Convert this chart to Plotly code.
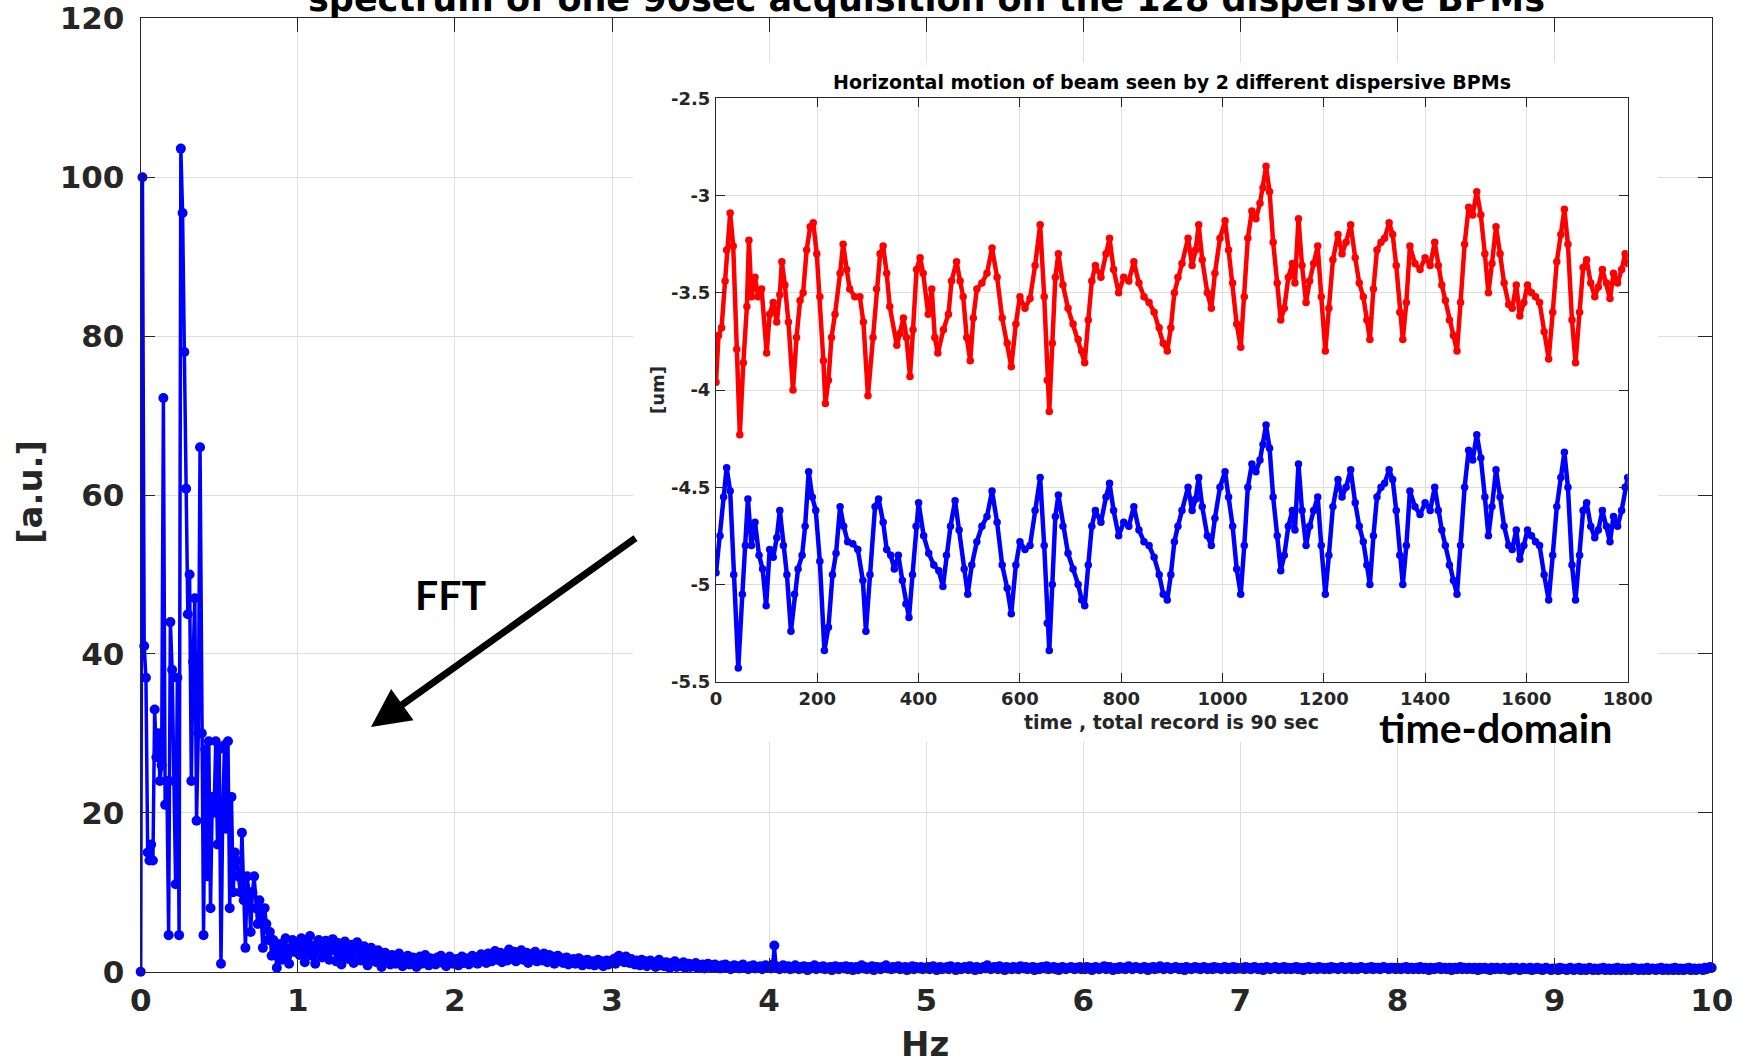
import numpy as np
import plotly.graph_objects as go

# ---------------- spectrum (FFT of a 90 s record, 0..10 Hz) ----------------
spec_0_1hz = [0, 100, 41, 37, 15, 14, 16, 14, 33, 27, 30, 24, 26, 72.2, 21, 24, 4.6, 44, 38, 24,
              11, 37, 4.6, 103.6, 95.5, 78, 60.8, 45, 50, 24, 39, 47, 19, 30, 66, 30, 4.6, 28, 12, 29,
              8, 22, 20, 29, 16, 28, 1, 20, 28.5, 18, 29, 8, 22, 10, 15, 14, 12, 10, 17.5, 9,
              3, 12, 10, 5, 10, 12, 8, 6, 9, 7, 3, 8, 6, 4, 5, 2, 4, 3, 0.5, 2.5,
              3.5, 1.5, 3, 4.2, 2, 1, 3, 4, 2.5, 3.5]
spec_1_2hz = [3.0, 2.1, 4.2, 3.0, 1.2, 3.8, 2.5, 4.5, 2.0, 3.3, 1.0, 2.8, 4.0, 3.5, 1.8, 2.6, 3.9, 2.2, 1.5, 3.1,
              4.1, 2.7, 1.3, 3.6, 2.4, 0.9, 3.0, 3.8, 2.0, 1.6, 2.9, 3.4, 1.1, 2.5, 3.7, 2.3, 1.4, 2.8, 3.2, 1.9,
              0.8, 2.6, 3.0, 1.7, 2.2, 1.2, 2.7, 1.5, 0.6, 2.0, 2.4, 1.3, 1.8, 0.9, 2.1, 1.6, 1.0, 1.9, 2.3, 1.4,
              0.7, 1.7, 1.2, 2.0, 0.9, 1.5, 1.8, 1.1, 0.6, 1.4, 1.9, 1.0, 1.6, 2.1, 1.3, 0.8, 1.7, 1.2, 1.5, 0.9,
              1.8, 1.4, 2.0, 1.1, 1.6, 0.7, 1.3, 1.9, 1.5, 1.0]
spec_2_3hz = [1.2, 1.6, 0.8, 1.4, 1.9, 1.1, 1.7, 1.3, 0.9, 1.5, 2.0, 1.2, 1.8, 1.0, 1.6, 2.2, 1.4, 1.9, 1.1, 2.3,
              1.7, 1.3, 2.0, 2.6, 1.5, 1.8, 2.4, 1.2, 1.9, 2.1, 1.4, 2.8, 2.0, 1.6, 2.5, 1.3, 2.2, 1.8, 2.7, 1.5,
              2.0, 2.4, 1.1, 1.9, 2.2, 1.6, 2.5, 1.3, 1.8, 2.0, 1.4, 2.3, 1.7, 1.2, 2.1, 1.5, 1.9, 1.0, 1.6, 2.0,
              1.3, 1.7, 1.1, 1.5, 1.8, 0.9, 1.4, 1.2, 1.6, 1.0, 1.3, 1.7, 1.1, 0.8, 1.4, 1.2, 1.5, 0.9, 1.1, 1.3,
              0.8, 1.2, 1.5, 1.0, 1.3, 0.7, 1.1, 1.4, 0.9, 1.2]
spec_3_4hz = [1.3, 1.6, 1.0, 1.8, 2.0, 1.4, 1.7, 1.2, 1.9, 1.5, 1.1, 1.6, 1.3, 0.9, 1.4, 1.2, 0.8, 1.5, 1.1, 1.3,
              0.7, 1.0, 1.4, 0.9, 1.2, 0.6, 1.1, 1.5, 0.8, 1.0, 0.7, 1.2, 0.9, 0.5, 1.1, 0.8, 1.3, 0.6, 0.9, 1.0,
              0.7, 1.2, 0.5, 0.8, 1.0, 0.6, 0.9, 0.7, 1.1, 0.5, 0.8, 0.6, 0.9, 0.4, 0.7, 1.0, 0.6, 0.8, 0.5, 0.9,
              0.6, 0.7, 0.4, 0.8, 0.6, 0.9, 0.5, 0.7, 0.3, 0.6, 0.8, 0.5, 0.7, 0.4, 0.6, 0.9, 0.5, 0.6, 0.3, 0.7,
              0.5, 0.8, 0.4, 0.6, 0.5, 0.7, 0.3, 0.6, 0.8, 0.5]
spec_4_5hz = [0.6, 0.4, 0.9, 3.3, 0.7, 0.5, 0.3, 0.6, 0.8, 0.4, 0.5, 0.7, 0.3, 0.6, 0.4, 0.8, 0.5, 0.3, 0.6, 0.4,
              0.7, 0.5, 0.2, 0.6, 0.4, 0.5, 0.8, 0.3, 0.5, 0.6, 0.4, 0.7, 0.3, 0.5, 0.4, 0.6, 0.2, 0.5, 0.7, 0.4,
              0.3, 0.6, 0.5, 0.4, 0.7, 0.3, 0.5, 0.6, 0.2, 0.4, 0.6, 0.3, 0.5, 0.8, 0.4, 0.6, 0.3, 0.5, 0.4, 0.7,
              0.2, 0.5, 0.6, 0.4, 0.3, 0.6, 0.5, 0.8, 0.4, 0.5, 0.3, 0.6, 0.4, 0.5, 0.7, 0.3, 0.5, 0.4, 0.6, 0.2,
              0.5, 0.4, 0.7, 0.3, 0.6, 0.5, 0.4, 0.6, 0.3, 0.5]
spec_5_6hz = [0.4, 0.6, 0.3, 0.5, 0.7, 0.4, 0.2, 0.5, 0.6, 0.3, 0.5, 0.4, 0.6, 0.3, 0.7, 0.5, 0.4, 0.2, 0.6, 0.5,
              0.3, 0.4, 0.6, 0.5, 0.3, 0.7, 0.4, 0.5, 0.2, 0.6, 0.4, 0.3, 0.5, 0.6, 0.4, 0.8, 0.5, 0.3, 0.4, 0.6,
              0.5, 0.3, 0.7, 0.4, 0.5, 0.2, 0.6, 0.4, 0.5, 0.3, 0.6, 0.4, 0.5, 0.3, 0.7, 0.5, 0.4, 0.6, 0.3, 0.5,
              0.4, 0.6, 0.2, 0.5, 0.4, 0.3, 0.6, 0.5, 0.4, 0.7, 0.3, 0.5, 0.4, 0.6, 0.3, 0.5, 0.2, 0.4, 0.6, 0.5,
              0.3, 0.4, 0.5, 0.6, 0.4, 0.3, 0.5, 0.4, 0.6, 0.3]
spec_6_7hz = [0.5, 0.3, 0.6, 0.4, 0.5, 0.2, 0.4, 0.6, 0.5, 0.3, 0.4, 0.5, 0.7, 0.3, 0.4, 0.6, 0.5, 0.2, 0.4, 0.5,
              0.3, 0.6, 0.4, 0.5, 0.3, 0.4, 0.7, 0.5, 0.3, 0.4, 0.6, 0.5, 0.4, 0.3, 0.5, 0.6, 0.4, 0.2, 0.5, 0.4,
              0.6, 0.3, 0.5, 0.4, 0.7, 0.5, 0.3, 0.4, 0.6, 0.5, 0.3, 0.4, 0.5, 0.6, 0.4, 0.3, 0.5, 0.4, 0.2, 0.6,
              0.5, 0.4, 0.3, 0.5, 0.6, 0.4, 0.5, 0.3, 0.4, 0.6, 0.5, 0.3, 0.4, 0.5, 0.3, 0.6, 0.4, 0.5, 0.4, 0.3,
              0.5, 0.6, 0.4, 0.3, 0.5, 0.4, 0.6, 0.3, 0.5, 0.4]
spec_7_8hz = [0.4, 0.5, 0.3, 0.6, 0.4, 0.5, 0.3, 0.4, 0.6, 0.5, 0.3, 0.4, 0.5, 0.2, 0.4, 0.6, 0.5, 0.3, 0.4, 0.5,
              0.6, 0.4, 0.3, 0.5, 0.4, 0.6, 0.3, 0.5, 0.4, 0.3, 0.5, 0.4, 0.6, 0.3, 0.5, 0.4, 0.2, 0.5, 0.4, 0.6,
              0.3, 0.5, 0.4, 0.5, 0.3, 0.6, 0.4, 0.5, 0.3, 0.4, 0.5, 0.3, 0.6, 0.4, 0.5, 0.4, 0.3, 0.5, 0.6, 0.4,
              0.3, 0.5, 0.4, 0.6, 0.3, 0.4, 0.5, 0.3, 0.4, 0.6, 0.5, 0.4, 0.3, 0.5, 0.4, 0.6, 0.3, 0.5, 0.4, 0.5,
              0.3, 0.4, 0.6, 0.5, 0.4, 0.3, 0.5, 0.4, 0.5, 0.3]
spec_8_9hz = [0.5, 0.4, 0.3, 0.5, 0.4, 0.6, 0.3, 0.4, 0.5, 0.3, 0.4, 0.5, 0.3, 0.6, 0.4, 0.3, 0.5, 0.4, 0.2, 0.5,
              0.4, 0.3, 0.5, 0.4, 0.6, 0.3, 0.4, 0.5, 0.3, 0.4, 0.5, 0.2, 0.4, 0.5, 0.3, 0.4, 0.6, 0.3, 0.5, 0.4,
              0.3, 0.5, 0.4, 0.3, 0.5, 0.4, 0.2, 0.5, 0.3, 0.4, 0.5, 0.3, 0.4, 0.2, 0.5, 0.4, 0.3, 0.5, 0.4, 0.3,
              0.4, 0.5, 0.3, 0.4, 0.2, 0.5, 0.3, 0.4, 0.5, 0.3, 0.2, 0.4, 0.5, 0.3, 0.4, 0.3, 0.5, 0.2, 0.4, 0.3,
              0.5, 0.3, 0.4, 0.2, 0.3, 0.5, 0.4, 0.3, 0.2, 0.4]
spec_9_10hz = [0.3, 0.4, 0.2, 0.5, 0.3, 0.4, 0.3, 0.2, 0.4, 0.5, 0.3, 0.2, 0.4, 0.3, 0.5, 0.2, 0.3, 0.4, 0.2, 0.3,
               0.5, 0.3, 0.2, 0.4, 0.3, 0.2, 0.4, 0.3, 0.5, 0.2, 0.3, 0.4, 0.2, 0.3, 0.4, 0.2, 0.5, 0.3, 0.2, 0.4,
               0.3, 0.2, 0.4, 0.3, 0.2, 0.5, 0.3, 0.4, 0.2, 0.3, 0.4, 0.2, 0.3, 0.5, 0.2, 0.3, 0.4, 0.3, 0.2, 0.4,
               0.3, 0.5, 0.2, 0.3, 0.4, 0.2, 0.3, 0.4, 0.2, 0.5, 0.3, 0.2, 0.4, 0.3, 0.2, 0.4, 0.3, 0.5, 0.2, 0.3,
               0.4, 0.2, 0.3, 0.4, 0.3, 0.2, 0.5, 0.3, 0.4, 0.6, 0.5]

# ---------------- time-domain horizontal position of two BPMs ----------------
blue_t = [0, 8, 15, 21, 28, 35, 44, 52, 58, 63, 70, 77, 85, 92, 99, 106, 113, 120, 126, 133,
          140, 148, 155, 162, 170, 176, 183, 190, 197, 205, 214, 222, 230, 237, 245, 252, 260, 270, 280, 290,
          296, 304, 314, 321, 330, 337, 345, 352, 360, 368, 375, 381, 388, 395, 400, 410, 420, 430, 440, 448,
          455, 463, 472, 480, 490, 497, 505, 515, 525, 535, 545, 555, 565, 575, 583, 592, 600, 610, 620, 630,
          640, 648, 654, 658, 664, 670, 676, 685, 695, 705, 715, 722, 728, 735, 742, 749, 760, 770, 777, 785,
          795, 805, 815, 825, 835, 845, 855, 865, 875, 883, 891, 898, 905, 912, 920, 932, 940, 947, 953, 960,
          970, 978, 985, 995, 1005, 1012, 1020, 1028, 1036, 1043, 1050, 1058, 1066, 1074, 1080, 1086, 1093, 1100, 1108, 1115,
          1122, 1130, 1138, 1143, 1150, 1157, 1165, 1172, 1180, 1188, 1195, 1203, 1210, 1218, 1228, 1236, 1244, 1253, 1262, 1270,
          1278, 1285, 1291, 1298, 1305, 1313, 1320, 1329, 1336, 1343, 1350, 1356, 1363, 1370, 1380, 1390, 1400, 1410, 1419, 1426,
          1433, 1440, 1448, 1456, 1463, 1470, 1478, 1486, 1494, 1502, 1510, 1518, 1525, 1532, 1540, 1548, 1556, 1565, 1572, 1580,
          1587, 1595, 1602, 1610, 1618, 1626, 1635, 1644, 1652, 1660, 1668, 1675, 1682, 1690, 1697, 1705, 1712, 1719, 1727, 1735,
          1742, 1750, 1758, 1765, 1772, 1780, 1788, 1795, 1800]
blue_um = [-4.94, -4.75, -4.55, -4.40, -4.52, -4.95, -5.43, -5.05, -4.80, -4.56, -4.80, -4.68, -4.85, -4.92, -5.11, -4.82, -4.86, -4.76, -4.62, -4.80,
           -4.95, -5.24, -5.05, -4.92, -4.85, -4.70, -4.42, -4.55, -4.62, -4.88, -5.34, -5.22, -4.95, -4.84, -4.60, -4.70, -4.78, -4.79, -4.82, -4.98,
           -5.24, -4.95, -4.60, -4.56, -4.68, -4.82, -4.85, -4.92, -4.85, -4.98, -5.10, -5.17, -4.95, -4.70, -4.58, -4.75, -4.84, -4.90, -4.93, -5.01,
           -4.85, -4.70, -4.57, -4.72, -4.92, -5.05, -4.90, -4.78, -4.70, -4.65, -4.52, -4.68, -4.90, -5.02, -5.15, -4.90, -4.78, -4.82, -4.80, -4.62,
           -4.45, -4.80, -5.20, -5.34, -5.00, -4.65, -4.54, -4.70, -4.84, -4.92, -5.00, -5.08, -5.11, -4.90, -4.70, -4.62, -4.68, -4.55, -4.48, -4.62,
           -4.75, -4.68, -4.70, -4.60, -4.72, -4.78, -4.80, -4.86, -4.95, -5.05, -5.08, -4.95, -4.78, -4.70, -4.62, -4.50, -4.62, -4.56, -4.45, -4.60,
           -4.75, -4.80, -4.66, -4.50, -4.42, -4.55, -4.70, -4.92, -5.05, -4.80, -4.50, -4.38, -4.42, -4.36, -4.28, -4.18, -4.30, -4.55, -4.75, -4.93,
           -4.85, -4.70, -4.62, -4.72, -4.38, -4.62, -4.80, -4.70, -4.62, -4.55, -4.80, -5.05, -4.85, -4.60, -4.46, -4.55, -4.50, -4.41, -4.58, -4.70,
           -4.78, -4.90, -5.00, -4.75, -4.55, -4.50, -4.48, -4.41, -4.46, -4.62, -4.85, -5.00, -4.80, -4.52, -4.60, -4.64, -4.58, -4.62, -4.50, -4.62,
           -4.72, -4.80, -4.90, -4.98, -5.05, -4.80, -4.50, -4.31, -4.36, -4.23, -4.35, -4.55, -4.75, -4.60, -4.41, -4.55, -4.70, -4.80, -4.82, -4.72,
           -4.87, -4.80, -4.72, -4.75, -4.78, -4.80, -4.95, -5.08, -4.85, -4.60, -4.45, -4.32, -4.50, -4.90, -5.08, -4.85, -4.62, -4.58, -4.70, -4.76,
           -4.72, -4.62, -4.70, -4.78, -4.65, -4.70, -4.62, -4.50, -4.45]

red_t = [0, 5, 11, 18, 21, 28, 34, 41, 47, 54, 61, 65, 70, 77, 83, 90, 100, 106, 113, 120,
         126, 130, 136, 143, 152, 159, 166, 172, 179, 186, 192, 199, 205, 212, 216, 222, 228, 235, 245, 251,
         258, 264, 274, 284, 291, 300, 310, 317, 324, 330, 337, 343, 357, 363, 370, 376, 383, 389, 396, 403,
         409, 419, 426, 432, 438, 449, 459, 465, 475, 482, 488, 495, 502, 508, 515,
         525, 535, 545, 555, 565, 575, 583, 592, 600, 610, 620, 630,
         640, 648, 654, 658, 664, 670, 676, 685, 695, 705, 715, 722, 728, 735, 742, 749, 760, 770, 777, 785,
         795, 805, 815, 825, 835, 845, 855, 865, 875, 883, 891, 898, 905, 912, 920, 932, 940, 947, 953, 960,
         970, 978, 985, 995, 1005, 1012, 1020, 1028, 1036, 1043, 1050, 1058, 1066, 1074, 1080, 1086, 1093, 1100, 1108, 1115,
         1122, 1130, 1138, 1143, 1150, 1157, 1165, 1172, 1180, 1188, 1195, 1203, 1210, 1218, 1228, 1236, 1244, 1253, 1262, 1270,
         1278, 1285, 1291, 1298, 1305, 1313, 1320, 1329, 1336, 1343, 1350, 1356, 1363, 1370, 1380, 1390, 1400, 1410, 1419, 1426,
         1433, 1440, 1448, 1456, 1463, 1470, 1478, 1486, 1494, 1502, 1510, 1518, 1525, 1532, 1540, 1548, 1556, 1565, 1572, 1580,
         1587, 1595, 1602, 1610, 1618, 1626, 1635, 1644, 1652, 1660, 1668, 1675, 1682, 1690, 1697, 1705, 1712, 1719, 1727, 1735,
         1742, 1750, 1758, 1765, 1772, 1780, 1788, 1795, 1800]
red_um = [-3.96, -3.72, -3.68, -3.44, -3.28, -3.09, -3.26, -3.79, -4.23, -3.86, -3.57, -3.23, -3.52, -3.42, -3.52, -3.48, -3.81, -3.61, -3.55, -3.65,
          -3.51, -3.34, -3.46, -3.65, -4.00, -3.73, -3.54, -3.50, -3.28, -3.16, -3.14, -3.30, -3.52, -3.85, -4.07, -3.95, -3.73, -3.61, -3.40, -3.25,
          -3.38, -3.48, -3.52, -3.52, -3.65, -4.03, -3.73, -3.48, -3.30, -3.26, -3.40, -3.57, -3.77, -3.71, -3.63, -3.73, -3.93, -3.69, -3.38, -3.32,
          -3.40, -3.61, -3.48, -3.73, -3.81, -3.69, -3.61, -3.44, -3.34, -3.44, -3.52, -3.73, -3.85, -3.63, -3.48,
          -3.45, -3.40, -3.27, -3.42, -3.63, -3.76, -3.88, -3.66, -3.52, -3.58, -3.53, -3.36,
          -3.15, -3.52, -3.95, -4.11, -3.76, -3.42, -3.30, -3.46, -3.58, -3.66, -3.74, -3.80, -3.86, -3.64, -3.44, -3.36, -3.42, -3.30, -3.22, -3.38,
          -3.50, -3.42, -3.44, -3.34, -3.45, -3.52, -3.55, -3.60, -3.68, -3.76, -3.80, -3.68, -3.50, -3.42, -3.35, -3.22, -3.36, -3.28, -3.15, -3.33,
          -3.50, -3.58, -3.40, -3.22, -3.13, -3.28, -3.45, -3.66, -3.78, -3.52, -3.22, -3.08, -3.12, -3.04, -2.96, -2.85, -2.98, -3.24, -3.45, -3.64,
          -3.58, -3.42, -3.35, -3.45, -3.12, -3.36, -3.55, -3.44, -3.35, -3.26, -3.52, -3.80, -3.58, -3.33, -3.20, -3.30, -3.24, -3.15, -3.32, -3.45,
          -3.52, -3.64, -3.74, -3.48, -3.28, -3.24, -3.22, -3.14, -3.20, -3.36, -3.60, -3.74, -3.55, -3.26, -3.35, -3.38, -3.32, -3.36, -3.24, -3.36,
          -3.46, -3.54, -3.64, -3.72, -3.80, -3.55, -3.25, -3.06, -3.10, -2.98, -3.10, -3.30, -3.50, -3.35, -3.16, -3.30, -3.45, -3.56, -3.58, -3.46,
          -3.62, -3.55, -3.46, -3.50, -3.52, -3.55, -3.70, -3.84, -3.60, -3.34, -3.20, -3.07, -3.25, -3.64, -3.86, -3.60, -3.37, -3.33, -3.45, -3.52,
          -3.47, -3.38, -3.45, -3.53, -3.40, -3.45, -3.38, -3.30, -3.35]

spec_ticks_x = list(range(0, 11))
spec_ticks_y = list(range(0, 121, 20))
time_ticks_x = list(range(0, 1801, 200))
pos_ticks = [-5.5, -5, -4.5, -4, -3.5, -3, -2.5]
pos_tick_text = ["-5.5", "-5", "-4.5", "-4", "-3.5", "-3", "-2.5"]

# ---------------- figure geometry (pixels) ----------------
W, H = 1747, 1062


def fx(px):
    return px / W


def fy(py):
    return 1 - py / H


INK = "#262626"
GRID = "#dedede"
BLUE = "#0000ff"
RED = "#ff0000"

spectrum = np.array(spec_0_1hz + spec_1_2hz + spec_2_3hz + spec_3_4hz + spec_4_5hz +
                    spec_5_6hz + spec_6_7hz + spec_7_8hz + spec_8_9hz + spec_9_10hz)
freq = np.linspace(0, 10, len(spectrum))

fig = go.Figure()

fig.add_trace(go.Scatter(
    x=freq, y=spectrum, mode="lines+markers",
    line=dict(color=BLUE, width=3.5), marker=dict(color=BLUE, size=10),
    cliponaxis=False, xaxis="x", yaxis="y", hoverinfo="skip"))

# empty subplot whose white background masks the main grid behind the inset
fig.add_trace(go.Scatter(x=[None], y=[None], xaxis="x2", yaxis="y2",
                         hoverinfo="skip", showlegend=False))

fig.add_trace(go.Scatter(
    x=red_t, y=red_um, mode="lines+markers",
    line=dict(color=RED, width=4.5), marker=dict(color=RED, size=7.5),
    xaxis="x3", yaxis="y3", hoverinfo="skip"))
fig.add_trace(go.Scatter(
    x=blue_t, y=blue_um, mode="lines+markers",
    line=dict(color=BLUE, width=4.5), marker=dict(color=BLUE, size=7.5),
    xaxis="x3", yaxis="y3", hoverinfo="skip"))

main_axis = dict(showline=True, linecolor=INK, linewidth=1.2, mirror="ticks",
                 ticks="inside", ticklen=14, tickwidth=1.2, tickcolor=INK,
                 showgrid=True, gridcolor=GRID, gridwidth=1, zeroline=False, automargin=False,
                 tickfont=dict(family="DejaVu Sans", size=31, color=INK, weight="bold"))
inset_axis = dict(showline=True, linecolor=INK, linewidth=1, mirror="ticks",
                  ticks="inside", ticklen=9, tickwidth=1, tickcolor=INK,
                  showgrid=True, gridcolor=GRID, gridwidth=1, zeroline=False, automargin=False,
                  tickfont=dict(family="DejaVu Sans", size=18, color=INK, weight="bold"))

fig.update_layout(
    width=W, height=H, margin=dict(l=0, r=0, t=0, b=0, pad=0),
    paper_bgcolor="white", plot_bgcolor="white", showlegend=False,
    xaxis=dict(main_axis, domain=[fx(140.7), fx(1711.7)], range=[0, 10],
               tickvals=spec_ticks_x, ticklabelstandoff=1, anchor="y"),
    yaxis=dict(main_axis, domain=[fy(971.7), fy(18.3)], range=[0, 120],
               tickvals=spec_ticks_y, ticklabelstandoff=9, anchor="x"),
    xaxis2=dict(domain=[fx(633), fx(1658)], visible=False, anchor="y2", range=[0, 1], automargin=False),
    yaxis2=dict(domain=[fy(742), fy(63)], visible=False, anchor="x2", range=[0, 1], automargin=False),
    xaxis3=dict(inset_axis, domain=[fx(716), fx(1627.7)], range=[0, 1800],
                tickvals=time_ticks_x, ticklabelstandoff=1, anchor="y3"),
    yaxis3=dict(inset_axis, domain=[fy(681.7), fy(98.3)], range=[-5.5, -2.5],
                tickvals=pos_ticks, ticktext=pos_tick_text, ticklabelstandoff=1, anchor="x3"),
)

bold = dict(family="DejaVu Sans", weight="bold")
callout = dict(family="Lato", weight="bold", size=41, color="black")
annotations = [
    dict(text="spectrum of one 90sec acquisition on the 128 dispersive BPMs",
         x=fx(926), y=fy(21), xanchor="center", yanchor="bottom",
         font=dict(bold, size=35, color="black")),
    dict(text="Hz", x=fx(925), y=fy(1044), xanchor="center", yanchor="middle",
         font=dict(bold, size=34, color=INK)),
    dict(text="[a.u.]", x=fx(30), y=fy(492), xanchor="center", yanchor="middle",
         textangle=-90, font=dict(bold, size=34, color=INK)),
    dict(text="Horizontal motion of beam seen by 2 different dispersive BPMs",
         x=fx(1172), y=fy(82), xanchor="center", yanchor="middle",
         font=dict(bold, size=19, color="black")),
    dict(text="time , total record is 90 sec", x=fx(1171), y=fy(722),
         xanchor="center", yanchor="middle", font=dict(bold, size=19, color=INK)),
    dict(text="[um]", x=fx(657), y=fy(390), xanchor="center", yanchor="middle",
         textangle=-90, font=dict(bold, size=18, color=INK)),
    dict(text="FFT", x=fx(450), y=fy(594), xanchor="center", yanchor="middle", font=callout),
    dict(text="time-domain", x=fx(1495), y=fy(727), xanchor="center", yanchor="middle", font=callout),
    dict(text="", x=fx(371), y=fy(727), ax=266, ay=-190, axref="pixel", ayref="pixel",
         showarrow=True, arrowhead=2, arrowsize=1.1, arrowwidth=7, arrowcolor="black"),
]
for a in annotations:
    a.setdefault("xref", "paper")
    a.setdefault("yref", "paper")
    a.setdefault("showarrow", False)
fig.update_layout(annotations=annotations)

fig.write_html("out.html")
